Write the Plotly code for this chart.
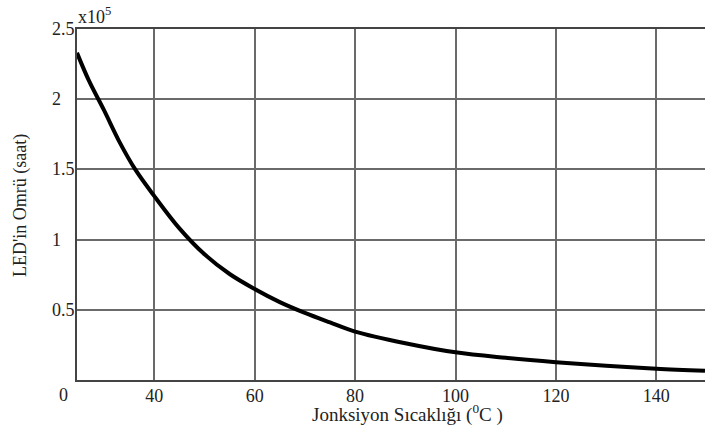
import plotly.graph_objects as go

# Junction temperature (°C) and LED lifetime (x10^5 hours)
temperature = [24.6, 27, 30, 33, 36.2, 40, 45, 50, 55, 60, 65, 70, 75, 80, 90, 100, 110, 120, 130, 140, 149.7]
lifetime = [2.33, 2.13, 1.92, 1.70, 1.50, 1.31, 1.08, 0.895, 0.755, 0.648, 0.555, 0.478, 0.41, 0.345, 0.262, 0.197, 0.158, 0.127, 0.102, 0.081, 0.066]

x_ticks = [40, 60, 80, 100, 120, 140]
y_ticks = [0.5, 1, 1.5, 2, 2.5]
y_tick_labels = ["0.5", "1", "1.5", "2", "2.5"]

font_family = "Liberation Serif, Times New Roman, serif"
grid_color = "#6a6a6a"
text_color = "#222"

fig = go.Figure()
fig.add_trace(go.Scatter(
    x=temperature, y=lifetime, mode="lines",
    line=dict(color="black", width=4, shape="spline", smoothing=1.0),
    showlegend=False, hoverinfo="skip",
))

W, H = 705, 433
ml, mr, mt, mb = 77, 0, 29, 53
pw = W - ml - mr
ph = H - mt - mb

annotations = []
for v, lab in zip(y_ticks, y_tick_labels):
    annotations.append(dict(
        x=(50 - ml) / pw, xref="paper", y=v, yref="y",
        text=lab, showarrow=False, xanchor="left", yanchor="middle",
        font=dict(family=font_family, size=18, color=text_color),
    ))
# lone "0" label at the left of the x axis
annotations.append(dict(
    x=(63 - ml) / pw, xref="paper", y=-(383 - (H - mb)) / ph, yref="paper",
    text="0", showarrow=False, xanchor="center", yanchor="top",
    font=dict(family=font_family, size=18, color=text_color),
))
# x10^5 multiplier
annotations.append(dict(
    x=(76 - ml) / pw, xref="paper", y=1.0, yref="paper",
    text="x10<sup>5</sup>", showarrow=False, xanchor="left", yanchor="bottom",
    font=dict(family=font_family, size=18, color=text_color),
))
# axis titles
annotations.append(dict(
    x=(407 - ml) / pw, xref="paper", y=-(399 - (H - mb)) / ph, yref="paper",
    text="Jonksiyon Sıcaklığı (<sup>0</sup>C )", showarrow=False,
    xanchor="center", yanchor="top",
    font=dict(family=font_family, size=19, color=text_color),
))
annotations.append(dict(
    x=(20 - ml) / pw, xref="paper", y=(H - mb - 206) / ph, yref="paper",
    text="LED'in Omrü (saat)", showarrow=False, textangle=-90,
    xanchor="center", yanchor="middle",
    font=dict(family=font_family, size=18, color=text_color),
))

fig.update_layout(
    width=W, height=H,
    margin=dict(l=ml, r=mr, t=mt, b=mb, pad=0),
    paper_bgcolor="white", plot_bgcolor="white",
    annotations=annotations,
    xaxis=dict(
        range=[24.6, 149.7], tickvals=x_ticks,
        showgrid=True, gridcolor=grid_color, gridwidth=2,
        showline=True, linecolor="#444", linewidth=2, mirror=True,
        zeroline=False, ticks="", ticklabelstandoff=-2,
        tickfont=dict(family=font_family, size=18, color=text_color),
    ),
    yaxis=dict(
        range=[0, 2.5], tickvals=y_ticks, showticklabels=False,
        showgrid=True, gridcolor=grid_color, gridwidth=2,
        showline=True, linecolor="#444", linewidth=2,
        zeroline=False, ticks="",
    ),
)

fig.write_html(
    "out.html",
    config={"displayModeBar": False},
    post_script="document.body.style.margin='0';document.body.style.padding='0';document.body.style.overflow='hidden';",
)
